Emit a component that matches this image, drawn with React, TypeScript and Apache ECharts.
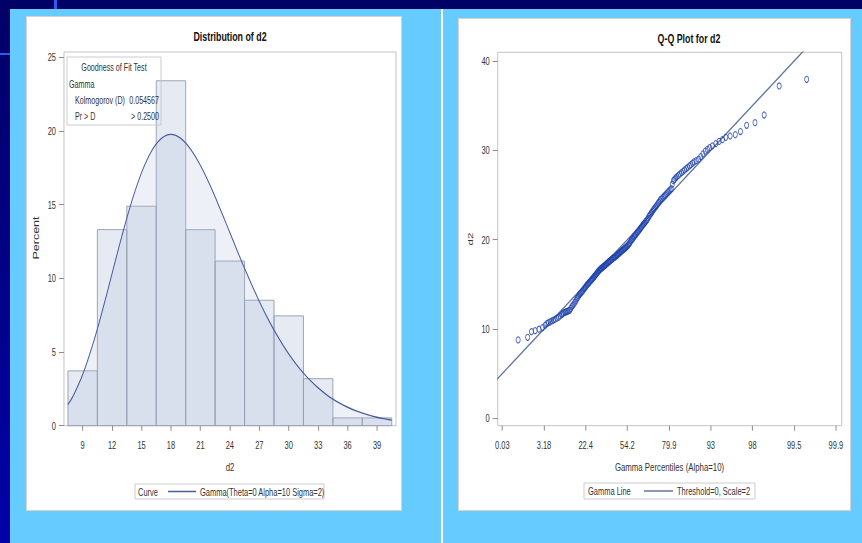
import React, { useEffect, useRef } from "react";
import * as echarts from "echarts";

// ---------- data ----------
const binStarts = [7.5, 10.5, 13.5, 16.5, 19.5, 22.5, 25.5, 28.5, 31.5, 34.5, 37.5];
const binEnds = [10.5, 13.5, 16.5, 19.5, 22.5, 25.5, 28.5, 31.5, 34.5, 37.5, 40.5];
const binPercents = [3.72, 13.3, 14.89, 23.4, 13.3, 11.17, 8.51, 7.45, 3.19, 0.53, 0.53];
const histTicks = [9, 12, 15, 18, 21, 24, 27, 30, 33, 36, 39];
const percentTicks = [0, 5, 10, 15, 20, 25];

const curveX = [7.5, 8, 9, 10, 11, 12, 13, 14, 15, 16, 17, 18, 19, 20, 21, 22, 23, 24, 25, 26, 27, 28, 29, 30, 31, 32, 33, 34, 35, 36, 37, 38, 39, 40, 40.5];
const curveY = [1.43, 1.98, 3.47, 5.44, 7.78, 10.33, 12.87, 15.21, 17.16, 18.61, 19.47, 19.76, 19.49, 18.76, 17.66, 16.28, 14.73, 13.1, 11.47, 9.91, 8.44, 7.1, 5.91, 4.86, 3.96, 3.2, 2.56, 2.03, 1.6, 1.25, 0.97, 0.75, 0.57, 0.44, 0.38];

const qqQuantiles = [
  3.45,
  4.02, 4.25, 4.47, 4.7, 4.92,
  5.07, 5.17, 5.27, 5.37, 5.47, 5.57, 5.67, 5.77, 5.87, 5.96,
  6.05, 6.11, 6.17, 6.24, 6.3, 6.36, 6.42, 6.49, 6.55, 6.61, 6.67, 6.73, 6.8, 6.86, 6.92, 6.98,
  7.03, 7.08, 7.13, 7.17, 7.22, 7.27, 7.31, 7.36, 7.41, 7.45, 7.5, 7.55, 7.59, 7.64, 7.69, 7.73, 7.78, 7.83, 7.87, 7.92, 7.97,
  8.01, 8.05, 8.09, 8.14, 8.18, 8.22, 8.26, 8.3, 8.34, 8.38, 8.42, 8.46, 8.5, 8.54, 8.59, 8.63, 8.67, 8.71, 8.75, 8.79, 8.83, 8.87, 8.91, 8.95, 9.0,
  9.04, 9.08, 9.12, 9.16, 9.2, 9.24, 9.28, 9.33, 9.37, 9.41, 9.45, 9.49, 9.53, 9.57, 9.61, 9.65, 9.69, 9.74, 9.78, 9.82, 9.86, 9.9, 9.94, 9.98,
  10.03, 10.07, 10.12, 10.16, 10.21, 10.25, 10.3, 10.34, 10.39, 10.43, 10.48, 10.52, 10.57, 10.62, 10.66, 10.71, 10.75, 10.8, 10.84, 10.89, 10.93, 10.98,
  11.03, 11.08, 11.14, 11.19, 11.24, 11.3, 11.35, 11.41, 11.46, 11.51, 11.57, 11.62, 11.68, 11.73, 11.78, 11.84, 11.89, 11.95, 12.0,
  12.07, 12.14, 12.21, 12.28, 12.35, 12.42, 12.49, 12.56, 12.63, 12.69, 12.76, 12.83, 12.9, 12.97,
  13.06, 13.15, 13.25, 13.34, 13.43, 13.53, 13.62, 13.72, 13.81, 13.91, 14.0,
  14.13, 14.27, 14.4, 14.53, 14.67, 14.8, 14.93,
  15.1, 15.3, 15.5, 15.7, 15.9,
  16.16, 16.47, 16.78,
  17.15, 17.65, 18.2, 19.1, 20.75,
];
const qqValues = [
  8.77, 9.07, 9.7, 9.81, 9.97, 10.15, 10.4,
  10.6, 10.7, 10.8, 10.9, 11.0, 11.1, 11.2, 11.3, 11.45, 11.6, 11.7, 11.8, 11.85, 11.9, 11.95, 12.0, 12.05, 12.1, 12.3, 12.5, 12.65, 12.8, 13.0, 13.2, 13.4,
  13.55, 13.7, 13.85, 13.95, 14.05, 14.15, 14.25, 14.35, 14.5, 14.6, 14.7, 14.85, 14.95, 15.05, 15.15, 15.25, 15.35, 15.45, 15.55, 15.65, 15.75, 15.85, 15.95, 16.05, 16.15, 16.25, 16.35, 16.45,
  16.55, 16.6, 16.7, 16.75, 16.8, 16.9, 16.95, 17.0, 17.1, 17.15, 17.2, 17.3, 17.35, 17.4, 17.5, 17.55, 17.6, 17.7, 17.75, 17.8, 17.9, 17.95, 18.0, 18.05, 18.1, 18.2, 18.25, 18.3, 18.4, 18.45, 18.5, 18.6, 18.65, 18.7, 18.8, 18.85, 18.9, 19.0, 19.05, 19.1, 19.2, 19.25, 19.35, 19.45,
  19.55, 19.7, 19.85, 19.95, 20.05, 20.15, 20.3, 20.4, 20.5, 20.6, 20.75, 20.85, 20.95, 21.05, 21.2, 21.3, 21.4, 21.5, 21.65, 21.75, 21.85, 22.0, 22.1, 22.25, 22.4,
  22.6, 22.75, 22.9, 23.05, 23.2, 23.35, 23.5, 23.65, 23.75, 23.9, 24.05, 24.2, 24.35, 24.5, 24.6, 24.75, 24.9, 25.0, 25.15, 25.3, 25.45,
  25.55, 25.7, 26.2, 26.6, 26.75, 26.9, 27.05, 27.2, 27.35, 27.5, 27.65, 27.8, 27.95, 28.1, 28.25, 28.4,
  28.55, 28.7, 28.85, 29.0, 29.3, 29.6, 29.9, 30.1, 30.3, 30.5, 30.75, 31.0, 31.2, 31.45,
  31.6, 31.75, 32.1, 32.8, 33.1, 33.95, 37.2, 37.95,
];
const qqTickValues = [2.5, 5, 7.5, 10, 12.5, 15, 17.5, 20, 22.5];
const qqTickLabels = ["0.03", "3.18", "22.4", "54.2", "79.9", "93", "98", "99.5", "99.9"];
const qqYTicks = [0, 10, 20, 30, 40];
const qqLineX = [2, 23];
const qqLineY = [4, 46];

// ---------- layout helpers ----------
const SX = 0.68; // horizontal squeeze of the original picture
const W = 862 / SX;
const X = (v: number) => v / SX;
const FONT = "'Liberation Sans', Arial, sans-serif";
const TICK_COLOR = "#777";
const LABEL_COLOR = "#333";
const CURVE_COLOR = "#4a5c9c";
const QQ_LINE_COLOR = "#62769d";
const QQ_MARK_COLOR = "#1f42ac";
const FILL = "rgba(170,185,215,0.3)";

function text(x: number, y: number, t: string, size: number, opts: any = {}) {
  const align = opts.align || "left";
  return {
    type: "text",
    x: X(x),
    y,
    z: 100,
    rotation: opts.rotation || 0,
    style: {
      text: t,
      fill: opts.color || LABEL_COLOR,
      font: `${opts.bold ? "bold " : ""}${size}px ${FONT}`,
      align,
      textAlign: align,
      verticalAlign: "middle",
      textVerticalAlign: "middle",
    },
  };
}
function box(x: number, y: number, w: number, h: number) {
  return {
    type: "rect",
    z: 99,
    shape: { x: X(x), y, width: X(w), height: h },
    style: { fill: "rgba(255,255,255,0)", stroke: "#c4c4c4", lineWidth: 1 },
  };
}
function hline(x1: number, x2: number, y: number, color: string) {
  return {
    type: "line",
    z: 100,
    shape: { x1: X(x1), y1: y, x2: X(x2), y2: y },
    style: { stroke: color, lineWidth: 1.5 },
  };
}

function valueAxisX(gridIndex: number, min: number, max: number, ticks: number[], fmt?: (v: number) => string) {
  return {
    type: "value",
    gridIndex,
    min,
    max,
    axisLine: { show: false, onZero: false },
    splitLine: { show: false },
    axisTick: { show: true, length: 5, lineStyle: { color: TICK_COLOR }, customValues: ticks },
    axisLabel: {
      customValues: ticks,
      margin: 13.5,
      fontSize: 11,
      fontFamily: FONT,
      color: LABEL_COLOR,
      formatter: fmt,
    },
  };
}
function valueAxisY(gridIndex: number, min: number, max: number, ticks: number[]) {
  return {
    type: "value",
    gridIndex,
    min,
    max,
    axisLine: { show: false, onZero: false },
    splitLine: { show: false },
    axisTick: { show: true, length: X(5), lineStyle: { color: TICK_COLOR }, customValues: ticks },
    axisLabel: { customValues: ticks, margin: X(8), fontSize: 11, fontFamily: FONT, color: LABEL_COLOR },
  };
}

export default function App() {
  const ref = useRef<HTMLDivElement>(null);
  useEffect(() => {
    document.body.style.margin = "0";
    const chart = echarts.init(ref.current!, null, { renderer: "svg" });
    const option: any = {
      animation: false,
      grid: [
        { left: X(64), top: 52, width: X(332), height: 373.7, show: true, backgroundColor: "#fff", borderColor: "#b8b8b8", borderWidth: 1 },
        { left: X(497.7), top: 52.3, width: X(344), height: 373.4, show: true, backgroundColor: "#fff", borderColor: "#b8b8b8", borderWidth: 1 },
      ],
      xAxis: [
        valueAxisX(0, 7.1, 40.93, histTicks),
        valueAxisX(1, 2.224, 22.85, qqTickValues, (v: number) => {
          const k = qqTickValues.findIndex((t) => Math.abs(t - v) < 1e-6);
          return k >= 0 ? qqTickLabels[k] : "";
        }),
      ],
      yAxis: [valueAxisY(0, 0, 25.35, percentTicks), valueAxisY(1, -0.83, 40.97, qqYTicks)],
      series: [
        {
          type: "custom",
          xAxisIndex: 0,
          yAxisIndex: 0,
          z: 2,
          encode: { x: [0, 1], y: 2 },
          data: binStarts.map((s, i) => [s, binEnds[i], binPercents[i]]),
          renderItem: (_p: any, api: any) => {
            const a = api.coord([api.value(0), api.value(2)]);
            const b = api.coord([api.value(1), 0]);
            return {
              type: "rect",
              shape: { x: a[0], y: a[1], width: b[0] - a[0], height: b[1] - a[1] },
              style: { fill: FILL, stroke: "#8e96a8", lineWidth: 1 },
            };
          },
        },
        {
          type: "line",
          xAxisIndex: 0,
          yAxisIndex: 0,
          z: 3,
          smooth: 0.4,
          showSymbol: false,
          symbol: "none",
          data: curveX.map((x, i) => [x, curveY[i]]),
          lineStyle: { color: CURVE_COLOR, width: 1.4 },
          areaStyle: { color: FILL, origin: "start" },
        },
        {
          type: "line",
          xAxisIndex: 1,
          yAxisIndex: 1,
          z: 2,
          symbol: "none",
          clip: true,
          data: qqLineX.map((x, i) => [x, qqLineY[i]]),
          lineStyle: { color: QQ_LINE_COLOR, width: 1.6 },
        },
        {
          type: "scatter",
          xAxisIndex: 1,
          yAxisIndex: 1,
          z: 3,
          symbol: "circle",
          symbolSize: 6,
          data: qqQuantiles.map((q, i) => [q, qqValues[i]]),
          itemStyle: { color: "rgba(0,0,0,0)", borderColor: QQ_MARK_COLOR, borderWidth: 1.2 },
        },
      ],
      graphic: [
        // left panel texts
        text(230, 36, "Distribution of d2", 13, { align: "center", bold: true, color: "#111" }),
        text(36, 238, "Percent", 12.5, { align: "center", rotation: Math.PI / 2 }),
        text(230, 467, "d2", 11.5, { align: "center" }),
        box(67, 57, 94, 68),
        text(114, 67, "Goodness of Fit Test", 10.5, { align: "center" }),
        text(69, 84, "Gamma", 10.5),
        text(75, 100, "Kolmogorov (D)", 10.5),
        text(159, 100, "0.054567", 10.5, { align: "right" }),
        text(75, 116, "Pr > D", 10.5),
        text(159, 116, "> 0.2500", 10.5, { align: "right" }),
        box(135, 484, 189, 15),
        text(138, 491.5, "Curve", 11),
        hline(168, 196, 491.5, CURVE_COLOR),
        text(200, 491.5, "Gamma(Theta=0 Alpha=10 Sigma=2)", 11),
        // right panel texts
        text(689, 38, "Q-Q Plot for d2", 13, { align: "center", bold: true, color: "#111" }),
        text(470, 239, "d2", 11.5, { align: "center", rotation: Math.PI / 2 }),
        text(669.5, 467, "Gamma Percentiles (Alpha=10)", 11.5, { align: "center" }),
        box(584, 483, 171, 16),
        text(588, 491, "Gamma Line", 11),
        hline(644, 673, 491, QQ_LINE_COLOR),
        text(677, 491, "Threshold=0, Scale=2", 11),
      ],
    };
    chart.setOption(option);
    return () => chart.dispose();
  }, []);

  const abs = (s: React.CSSProperties): React.CSSProperties => ({ position: "absolute", ...s });
  return (
    <div style={{ position: "fixed", left: 0, top: 0, width: 862, height: 543, overflow: "hidden", background: "#66CCFF" }}>
      <div style={abs({ left: 0, top: 0, width: 862, height: 9, background: "#000066" })} />
      <div style={abs({ left: 0, top: 0, width: 10, height: 543, background: "linear-gradient(#000066, #0000a8)" })} />
      <div style={abs({ left: 54, top: 0, width: 2.5, height: 9, background: "#2a5cf0" })} />
      <div style={abs({ left: 0, top: 53, width: 10, height: 2, background: "#2a5cf0" })} />
      <div style={abs({ left: 441, top: 9, width: 2, height: 534, background: "#ffffff" })} />
      <div style={abs({ left: 26, top: 16, width: 376, height: 495, background: "#fff", border: "1px solid #d4d4d4", boxSizing: "border-box" })} />
      <div style={abs({ left: 458, top: 18, width: 393, height: 493, background: "#fff", border: "1px solid #d4d4d4", boxSizing: "border-box" })} />
      <div
        ref={ref}
        style={abs({ left: 0, top: 0, width: W, height: 543, transform: `scaleX(${SX})`, transformOrigin: "0 0" })}
      />
    </div>
  );
}
